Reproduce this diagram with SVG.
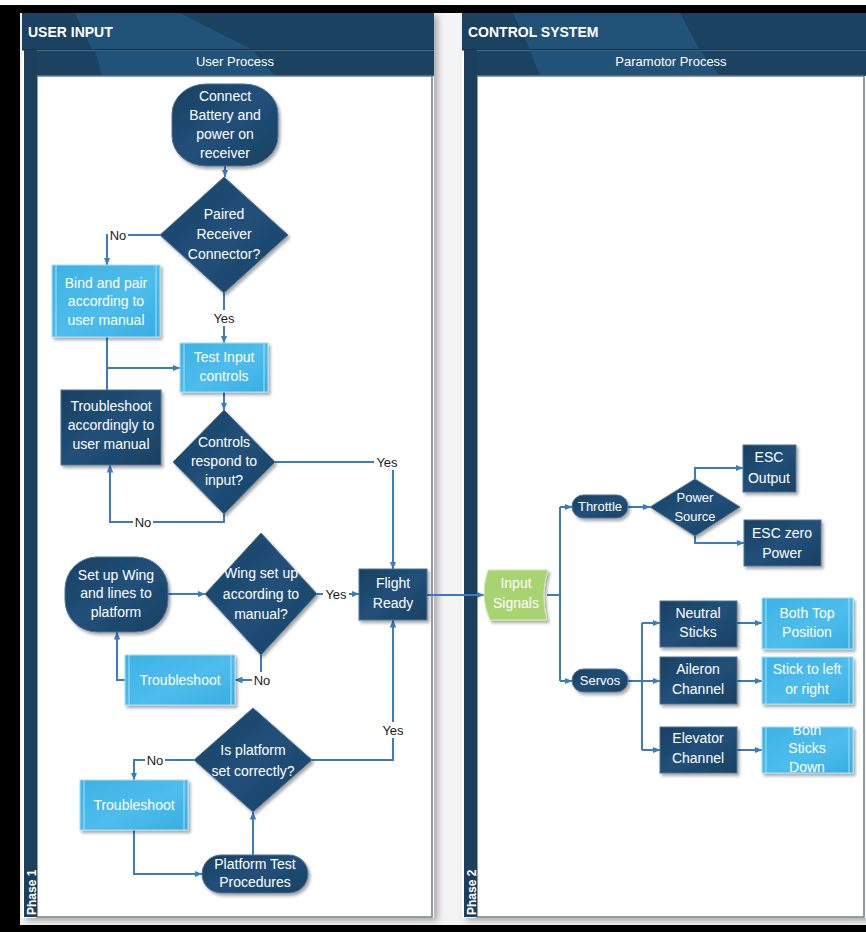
<svg xmlns="http://www.w3.org/2000/svg" width="866" height="932" viewBox="0 0 866 932">
<defs>
<style>
.t{font-family:"Liberation Sans",Arial,sans-serif;font-size:14px;fill:#fff;text-anchor:middle}
.ts{font-family:"Liberation Sans",Arial,sans-serif;font-size:13px;fill:#fff;text-anchor:middle}
.hd{font-family:"Liberation Sans",Arial,sans-serif;font-size:14px;font-weight:bold;fill:#fff}
.sh{font-family:"Liberation Sans",Arial,sans-serif;font-size:13px;fill:#fff;text-anchor:middle}
.ph{font-family:"Liberation Sans",Arial,sans-serif;font-size:12px;font-weight:bold;fill:#fff}
.lb{font-family:"Liberation Sans",Arial,sans-serif;font-size:13px;fill:#1a1a1a;text-anchor:middle}
.lbg{fill:#fff}
.c{fill:none;stroke:#3a7dbf;stroke-width:2}
.ca{fill:none;stroke:#3a7dbf;stroke-width:2;marker-end:url(#arr)}
.dk{fill:url(#gd);stroke:#4f7593;stroke-width:1;filter:url(#ds)}
.lt{fill:url(#gl);stroke:#a8def6;stroke-width:1;filter:url(#ds)}
.ln{stroke:#a8def6;stroke-width:1}
.gr{fill:#a7d46f;stroke:#d3ebb5;stroke-width:1;filter:url(#ds)}
.hbar{fill:#1b4260}
.hstr{fill:#215278}
.band{fill:#1b3f5d}
.cont{fill:#fff;stroke:#6a7c88;stroke-width:1.5}
</style>
<linearGradient id="gd" x1="0" y1="0" x2="1" y2="1">
<stop offset="0" stop-color="#1a3f60"/>
<stop offset="0.5" stop-color="#21507a"/>
<stop offset="1" stop-color="#1a4062"/>
</linearGradient>
<linearGradient id="gl" x1="0" y1="0" x2="1" y2="1">
<stop offset="0" stop-color="#3cb2e5"/>
<stop offset="0.55" stop-color="#4dbdec"/>
<stop offset="1" stop-color="#38ade2"/>
</linearGradient>
<filter id="ds" x="-15%" y="-15%" width="140%" height="145%">
<feDropShadow dx="2" dy="2.5" stdDeviation="1.5" flood-color="#000" flood-opacity="0.35"/>
</filter>
<filter id="ps" x="-5%" y="-5%" width="110%" height="110%">
<feDropShadow dx="4" dy="3" stdDeviation="3" flood-color="#000" flood-opacity="0.3"/>
</filter>
<marker id="arr" markerWidth="8" markerHeight="8" refX="7.5" refY="4" orient="auto" markerUnits="userSpaceOnUse">
<path d="M0,0.8 L8,4 L0,7.2 Z" fill="#3a7dbf"/>
</marker>
</defs>

<!-- frame -->
<rect x="0" y="0" width="866" height="932" fill="#fff"/>
<rect x="0" y="5" width="866" height="927" fill="#000"/>
<rect x="20" y="13" width="846" height="912" fill="#f4f4f4"/>

<!-- pool 1 -->
<g id="pool1">
<rect x="22" y="13" width="412" height="905" fill="#fff" filter="url(#ps)"/>
<rect class="hbar" x="22" y="13" width="412" height="37"/>
<polygon class="hstr" points="75,13 180,13 253,50 92,50"/>
<rect x="22" y="49" width="412" height="1.5" fill="#14344e"/>
<rect class="hbar" x="35" y="50.5" width="399" height="25.5"/>
<polygon class="hstr" points="95,50.5 253,50.5 275,76 102,76"/>
<rect class="cont" x="37" y="76" width="395" height="841"/>
<rect class="band" x="24" y="50" width="13" height="867"/>
<text class="hd" x="28" y="37">USER INPUT</text>
<text class="sh" x="235" y="66">User Process</text>
<text class="ph" transform="translate(36,915) rotate(-90)">Phase 1</text>
</g>

<!-- pool 2 -->
<g id="pool2">
<rect x="462" y="13" width="404" height="905" fill="#fff" filter="url(#ps)"/>
<rect class="hbar" x="462" y="13" width="404" height="37"/>
<polygon class="hstr" points="513,13 680,13 700,50 530,50"/>
<rect x="462" y="49" width="404" height="1.5" fill="#14344e"/>
<rect class="hbar" x="475" y="50.5" width="391" height="25.5"/>
<polygon class="hstr" points="530,50.5 700,50.5 720,76 540,76"/>
<rect class="cont" x="477" y="76" width="387" height="841"/>
<rect class="band" x="464" y="50" width="13" height="867"/>
<text class="hd" x="468" y="37">CONTROL SYSTEM</text>
<text class="sh" x="671" y="66">Paramotor Process</text>
<text class="ph" transform="translate(476,915) rotate(-90)">Phase 2</text>
</g>

<!-- connectors -->
<g id="connectors">
<path class="ca" d="M225,166 V177"/>
<path class="ca" d="M160,235 H107 V265"/>
<path class="ca" d="M224,293 V343"/>
<path class="c" d="M107,337 V390"/>
<path class="ca" d="M107,368 H180"/>
<path class="ca" d="M224,392 V410"/>
<path class="ca" d="M224,514 V522 H110 V465"/>
<path class="ca" d="M275,462 H393 V569"/>
<path class="ca" d="M168,594 H205"/>
<path class="ca" d="M317,594 H359"/>
<path class="ca" d="M261,655 V680 H235"/>
<path class="ca" d="M125,680 H117 V632"/>
<path class="ca" d="M312,760 H393 V620"/>
<path class="ca" d="M194,760 H134 V780"/>
<path class="ca" d="M134,830 V874 H202"/>
<path class="ca" d="M253,855 V812"/>
<path class="ca" d="M427,595 H484"/>
<path class="c" d="M547,595 H560 M560,507 V681"/>
<path class="ca" d="M560,507 H572"/>
<path class="ca" d="M560,681 H572"/>
<path class="ca" d="M628,507 H650"/>
<path class="ca" d="M695,479 V468 H743"/>
<path class="ca" d="M695,536 V543 H744"/>
<path class="c" d="M628,681 H642 M642,623 V750"/>
<path class="ca" d="M642,623 H660"/>
<path class="ca" d="M642,681 H660"/>
<path class="ca" d="M642,750 H660"/>
<path class="ca" d="M737,623 H762"/>
<path class="ca" d="M737,681 H762"/>
<path class="ca" d="M737,750 H762"/>
<!-- labels -->
<rect class="lbg" x="108" y="227" width="20" height="16"/><text class="lb" x="118" y="240">No</text>
<rect class="lbg" x="211" y="310" width="26" height="16"/><text class="lb" x="224" y="323">Yes</text>
<rect class="lbg" x="133" y="514" width="20" height="16"/><text class="lb" x="143" y="527">No</text>
<rect class="lbg" x="374" y="454" width="26" height="16"/><text class="lb" x="387" y="467">Yes</text>
<rect class="lbg" x="323" y="586" width="26" height="16"/><text class="lb" x="336" y="599">Yes</text>
<rect class="lbg" x="252" y="672" width="20" height="16"/><text class="lb" x="262" y="685">No</text>
<rect class="lbg" x="380" y="722" width="26" height="16"/><text class="lb" x="393" y="735">Yes</text>
<rect class="lbg" x="145" y="752" width="20" height="16"/><text class="lb" x="155" y="765">No</text>
</g>

<!-- user process nodes -->
<g id="n-connect">
<rect class="dk" x="172" y="84" width="106" height="82" rx="34" ry="30"/>
<text class="t" x="225" y="101">Connect</text>
<text class="t" x="225" y="120">Battery and</text>
<text class="t" x="225" y="139">power on</text>
<text class="t" x="225" y="158">receiver</text>
</g>
<g id="n-paired">
<polygon class="dk" points="224,177 288,235 224,293 160,235"/>
<text class="t" x="224" y="219">Paired</text>
<text class="t" x="224" y="239">Receiver</text>
<text class="t" x="224" y="259">Connector?</text>
</g>
<g id="n-bind">
<rect class="lt" x="52" y="265" width="108" height="72"/>
<line class="ln" x1="56" y1="265" x2="56" y2="337"/><line class="ln" x1="156" y1="265" x2="156" y2="337"/>
<text class="t" x="106" y="288">Bind and pair</text>
<text class="t" x="106" y="306">according to</text>
<text class="t" x="106" y="325">user manual</text>
</g>
<g id="n-test">
<rect class="lt" x="180" y="343" width="88" height="49"/>
<line class="ln" x1="184" y1="343" x2="184" y2="392"/><line class="ln" x1="264" y1="343" x2="264" y2="392"/>
<text class="t" x="224" y="362">Test Input</text>
<text class="t" x="224" y="381">controls</text>
</g>
<g id="n-trouble-manual">
<rect class="dk" x="61" y="390" width="100" height="75"/>
<text class="t" x="111" y="411">Troubleshoot</text>
<text class="t" x="111" y="430">accordingly to</text>
<text class="t" x="111" y="449">user manual</text>
</g>
<g id="n-controls">
<polygon class="dk" points="224,410 275,462 224,514 173,462"/>
<text class="t" x="224" y="447">Controls</text>
<text class="t" x="224" y="466">respond to</text>
<text class="t" x="224" y="485">input?</text>
</g>
<g id="n-flight">
<rect class="dk" x="359" y="569" width="68" height="51"/>
<text class="t" x="393" y="588">Flight</text>
<text class="t" x="393" y="608">Ready</text>
</g>
<g id="n-setup">
<rect class="dk" x="65" y="557" width="103" height="75" rx="32" ry="32"/>
<text class="t" x="116" y="580">Set up Wing</text>
<text class="t" x="116" y="598">and lines to</text>
<text class="t" x="116" y="617">platform</text>
</g>
<g id="n-wing">
<polygon class="dk" points="261,533 317,594 261,655 205,594"/>
<text class="t" x="261" y="578">Wing set up</text>
<text class="t" x="261" y="599">according to</text>
<text class="t" x="261" y="619">manual?</text>
</g>
<g id="n-trouble1">
<rect class="lt" x="125" y="655" width="110" height="50"/>
<line class="ln" x1="129" y1="655" x2="129" y2="705"/><line class="ln" x1="231" y1="655" x2="231" y2="705"/>
<text class="t" x="180" y="685">Troubleshoot</text>
</g>
<g id="n-platform">
<polygon class="dk" points="253,708 312,760 253,812 194,760"/>
<text class="t" x="253" y="755">Is platform</text>
<text class="t" x="253" y="776">set correctly?</text>
</g>
<g id="n-trouble2">
<rect class="lt" x="80" y="780" width="108" height="50"/>
<line class="ln" x1="84" y1="780" x2="84" y2="830"/><line class="ln" x1="184" y1="780" x2="184" y2="830"/>
<text class="t" x="134" y="810">Troubleshoot</text>
</g>
<g id="n-ptest">
<rect class="dk" x="202" y="855" width="106" height="38" rx="19" ry="19"/>
<text class="t" x="255" y="869">Platform Test</text>
<text class="t" x="255" y="887">Procedures</text>
</g>

<!-- paramotor process nodes -->
<g id="n-input">
<path class="gr" d="M488,570 H548 Q540,595 547,620 H490 Q479,596 488,570 Z"/>
<text class="t" x="516" y="588">Input</text>
<text class="t" x="516" y="608">Signals</text>
</g>
<g id="n-throttle">
<rect class="dk" x="572" y="495" width="56" height="23" rx="11.5" ry="11.5"/>
<text class="ts" x="600" y="511">Throttle</text>
</g>
<g id="n-power">
<polygon class="dk" points="695,479 740,507 695,536 650,507"/>
<text class="ts" x="695" y="502">Power</text>
<text class="ts" x="695" y="521">Source</text>
</g>
<g id="n-escout">
<rect class="dk" x="743" y="445" width="53" height="47"/>
<text class="t" x="769" y="462">ESC</text>
<text class="t" x="769" y="483">Output</text>
</g>
<g id="n-esczero">
<rect class="dk" x="744" y="520" width="77" height="46"/>
<text class="t" x="782" y="538">ESC zero</text>
<text class="t" x="782" y="558">Power</text>
</g>
<g id="n-servos">
<rect class="dk" x="572" y="669" width="56" height="23" rx="11.5" ry="11.5"/>
<text class="ts" x="600" y="685">Servos</text>
</g>
<g id="n-neutral">
<rect class="dk" x="660" y="601" width="77" height="46"/>
<text class="t" x="698" y="618">Neutral</text>
<text class="t" x="698" y="637">Sticks</text>
</g>
<g id="n-aileron">
<rect class="dk" x="660" y="657" width="77" height="47"/>
<text class="t" x="698" y="674">Aileron</text>
<text class="t" x="698" y="694">Channel</text>
</g>
<g id="n-elevator">
<rect class="dk" x="660" y="727" width="77" height="46"/>
<text class="t" x="698" y="743">Elevator</text>
<text class="t" x="698" y="763">Channel</text>
</g>
<g id="n-bothtop">
<rect class="lt" x="762" y="598" width="91" height="51"/>
<line class="ln" x1="766" y1="598" x2="766" y2="649"/><line class="ln" x1="849" y1="598" x2="849" y2="649"/>
<text class="t" x="807" y="618">Both Top</text>
<text class="t" x="807" y="637">Position</text>
</g>
<g id="n-stick">
<rect class="lt" x="762" y="657" width="91" height="47"/>
<line class="ln" x1="766" y1="657" x2="766" y2="704"/><line class="ln" x1="849" y1="657" x2="849" y2="704"/>
<text class="t" x="807" y="674">Stick to left</text>
<text class="t" x="807" y="694">or right</text>
</g>
<g id="n-bothdown">
<rect class="lt" x="762" y="727" width="91" height="46"/>
<line class="ln" x1="766" y1="727" x2="766" y2="773"/><line class="ln" x1="849" y1="727" x2="849" y2="773"/>
<text class="t" x="807" y="735">Both</text>
<text class="t" x="807" y="753">Sticks</text>
<text class="t" x="807" y="772">Down</text>
</g>
</svg>
